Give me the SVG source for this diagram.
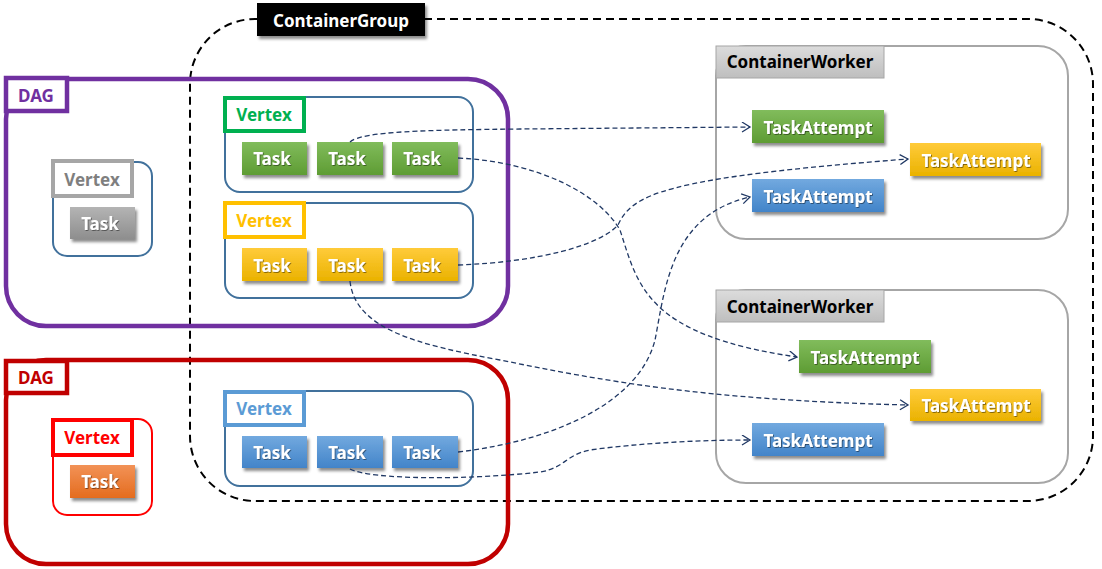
<svg xmlns="http://www.w3.org/2000/svg" width="1102" height="569" viewBox="0 0 1102 569">
<defs>
<linearGradient id="gGreen" x1="0" y1="0" x2="0" y2="1"><stop offset="0" stop-color="#81BC5C"/><stop offset="1" stop-color="#5E9C33"/></linearGradient>
<linearGradient id="gYellow" x1="0" y1="0" x2="0" y2="1"><stop offset="0" stop-color="#FFCB3A"/><stop offset="1" stop-color="#EAB200"/></linearGradient>
<linearGradient id="gBlue" x1="0" y1="0" x2="0" y2="1"><stop offset="0" stop-color="#72A9DF"/><stop offset="1" stop-color="#4284C9"/></linearGradient>
<linearGradient id="gGray" x1="0" y1="0" x2="0" y2="1"><stop offset="0" stop-color="#B4B4B4"/><stop offset="1" stop-color="#8E8E8E"/></linearGradient>
<linearGradient id="gOrange" x1="0" y1="0" x2="0" y2="1"><stop offset="0" stop-color="#F29257"/><stop offset="1" stop-color="#E46C1E"/></linearGradient>
<linearGradient id="gHead" x1="0" y1="0" x2="0" y2="1"><stop offset="0" stop-color="#DCDCDC"/><stop offset="1" stop-color="#BEBEBE"/></linearGradient>
<filter id="sh" x="-20%" y="-20%" width="150%" height="160%"><feDropShadow dx="2" dy="3" stdDeviation="1.8" flood-color="#000" flood-opacity="0.45"/></filter>
<filter id="tsh" x="-10%" y="-20%" width="130%" height="150%"><feDropShadow dx="0.8" dy="0.8" stdDeviation="0.6" flood-color="#000" flood-opacity="0.55"/></filter>
<marker id="arr" markerUnits="userSpaceOnUse" markerWidth="12" markerHeight="12" refX="9" refY="5.5" orient="auto" viewBox="0 0 12 12"><path d="M1,0.5 L9,5.5 L1,10.5" fill="none" stroke="#203864" stroke-width="1.3"/></marker>
</defs>
<style>
text{font-family:"Noto Sans","Open Sans","DejaVu Sans",sans-serif;font-weight:bold;}
.task{font-size:17px;fill:#fff;text-anchor:middle;}
.lbl{font-size:17px;text-anchor:middle;}
.vbox{fill:#fff;stroke:#41719C;stroke-width:2;}
.vbox.red{stroke:#FF0000;}
.vlab{fill:#fff;stroke-width:4;}
.dag{fill:none;stroke-width:4.5;}
.worker{fill:#fff;stroke:#A6A6A6;stroke-width:2;}
.conn{fill:none;stroke:#203864;stroke-width:1.3;stroke-dasharray:5 3;marker-end:url(#arr);}
</style>
<rect width="1102" height="569" fill="#fff"/>

<g id="containergroup">
<rect x="190" y="19" width="903" height="482" rx="65" ry="65" fill="none" stroke="#000" stroke-width="2" stroke-dasharray="8 5"/>
<rect x="257" y="3" width="168" height="33" fill="#000" filter="url(#sh)"/>
<text x="341" y="27" class="lbl" fill="#fff">ContainerGroup</text>
</g>

<g id="dag1">
<rect x="6" y="79" width="502" height="247" rx="40" ry="40" class="dag" stroke="#7030A0"/>
<rect x="6" y="78" width="61" height="33" fill="#fff" stroke="#7030A0" stroke-width="4.5"/>
<text x="36" y="102" class="lbl" fill="#7030A0">DAG</text>
</g>

<g id="dag2">
<rect x="6" y="360" width="502" height="204" rx="40" ry="40" class="dag" stroke="#C00000"/>
<rect x="6" y="361" width="61" height="32" fill="#fff" stroke="#C00000" stroke-width="4.5"/>
<text x="36" y="384" class="lbl" fill="#C00000">DAG</text>
</g>

<g id="vertex-gray">
<rect x="53" y="162" width="99" height="94" rx="14" class="vbox"/>
<rect x="53" y="161" width="79" height="35" class="vlab" stroke="#A6A6A6"/>
<text x="92" y="186" class="lbl" fill="#7F7F7F">Vertex</text>
<rect x="70" y="207" width="65" height="32" fill="url(#gGray)" filter="url(#sh)"/>
<text x="100" y="230" class="task" filter="url(#tsh)">Task</text>
</g>

<g id="vertex-red">
<rect x="53" y="419" width="99" height="96" rx="14" class="vbox red"/>
<rect x="53" y="420" width="79" height="35" class="vlab" stroke="#FF0000"/>
<text x="92" y="444" class="lbl" fill="#FF0000">Vertex</text>
<rect x="70" y="465" width="65" height="33" fill="url(#gOrange)" filter="url(#sh)"/>
<text x="100" y="488" class="task" filter="url(#tsh)">Task</text>
</g>

<g id="vertex-green">
<rect x="225" y="97" width="248" height="95" rx="15" class="vbox"/>
<rect x="225" y="98" width="79" height="33" class="vlab" stroke="#00B050"/>
<text x="264" y="121" class="lbl" fill="#00B050">Vertex</text>
<rect x="242" y="142" width="65" height="33" fill="url(#gGreen)" filter="url(#sh)"/>
<text x="272" y="165" class="task" filter="url(#tsh)">Task</text>
<rect x="317" y="142" width="66" height="33" fill="url(#gGreen)" filter="url(#sh)"/>
<text x="347" y="165" class="task" filter="url(#tsh)">Task</text>
<rect x="392" y="142" width="66" height="33" fill="url(#gGreen)" filter="url(#sh)"/>
<text x="422" y="165" class="task" filter="url(#tsh)">Task</text>
</g>

<g id="vertex-yellow">
<rect x="225" y="203" width="248" height="95" rx="15" class="vbox"/>
<rect x="225" y="203" width="79" height="34" class="vlab" stroke="#FFC000"/>
<text x="264" y="227" class="lbl" fill="#FFC000">Vertex</text>
<rect x="242" y="248" width="65" height="33" fill="url(#gYellow)" filter="url(#sh)"/>
<text x="272" y="272" class="task" filter="url(#tsh)">Task</text>
<rect x="317" y="248" width="66" height="33" fill="url(#gYellow)" filter="url(#sh)"/>
<text x="347" y="272" class="task" filter="url(#tsh)">Task</text>
<rect x="392" y="248" width="66" height="33" fill="url(#gYellow)" filter="url(#sh)"/>
<text x="422" y="272" class="task" filter="url(#tsh)">Task</text>
</g>

<g id="vertex-blue">
<rect x="225" y="391" width="248" height="95" rx="15" class="vbox"/>
<rect x="225" y="392" width="79" height="33" class="vlab" stroke="#5B9BD5"/>
<text x="264" y="415" class="lbl" fill="#5B9BD5">Vertex</text>
<rect x="242" y="436" width="65" height="32" fill="url(#gBlue)" filter="url(#sh)"/>
<text x="272" y="459" class="task" filter="url(#tsh)">Task</text>
<rect x="317" y="436" width="66" height="32" fill="url(#gBlue)" filter="url(#sh)"/>
<text x="347" y="459" class="task" filter="url(#tsh)">Task</text>
<rect x="392" y="436" width="66" height="32" fill="url(#gBlue)" filter="url(#sh)"/>
<text x="422" y="459" class="task" filter="url(#tsh)">Task</text>
</g>

<g id="worker1">
<rect x="716" y="46" width="352" height="193" rx="30" class="worker"/>
<rect x="716" y="46" width="168" height="32" fill="url(#gHead)" stroke="#A6A6A6" stroke-width="1"/>
<text x="800" y="68" class="lbl" fill="#000">ContainerWorker</text>
<rect x="752" y="110" width="132" height="33" fill="url(#gGreen)" filter="url(#sh)"/>
<text x="818" y="134" class="task" filter="url(#tsh)">TaskAttempt</text>
<rect x="910" y="143" width="131" height="33" fill="url(#gYellow)" filter="url(#sh)"/>
<text x="976" y="167" class="task" filter="url(#tsh)">TaskAttempt</text>
<rect x="752" y="179" width="132" height="33" fill="url(#gBlue)" filter="url(#sh)"/>
<text x="818" y="203" class="task" filter="url(#tsh)">TaskAttempt</text>
</g>

<g id="worker2">
<rect x="716" y="290" width="352" height="193" rx="30" class="worker"/>
<rect x="716" y="290" width="168" height="32" fill="url(#gHead)" stroke="#A6A6A6" stroke-width="1"/>
<text x="800" y="313" class="lbl" fill="#000">ContainerWorker</text>
<rect x="799" y="340" width="132" height="33" fill="url(#gGreen)" filter="url(#sh)"/>
<text x="865" y="364" class="task" filter="url(#tsh)">TaskAttempt</text>
<rect x="910" y="389" width="131" height="32" fill="url(#gYellow)" filter="url(#sh)"/>
<text x="976" y="412" class="task" filter="url(#tsh)">TaskAttempt</text>
<rect x="752" y="423" width="132" height="33" fill="url(#gBlue)" filter="url(#sh)"/>
<text x="818" y="447" class="task" filter="url(#tsh)">TaskAttempt</text>
</g>

<g id="connectors">
<path class="conn" d="M350,142 C362,131 430,130 520,129 L750,127"/>
<path class="conn" d="M458,158 C540,162 600,195 620,230 C638,285 645,335 797,357"/>
<path class="conn" d="M458,265 C540,262 600,245 618,225 C632,195 660,178 908,159"/>
<path class="conn" d="M350,281 C355,330 420,345 500,360 C600,380 700,400 908,405"/>
<path class="conn" d="M458,452 C560,440 640,400 655,340 C665,290 670,215 750,197"/>
<path class="conn" d="M350,469 C370,480 470,480 540,472 C565,468 565,455 590,450 C640,443 700,440 750,440"/>
</g>
</svg>
